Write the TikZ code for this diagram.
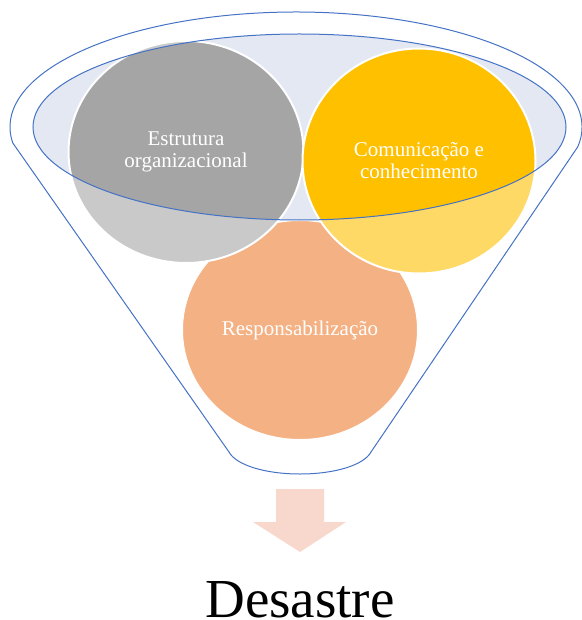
\documentclass[tikz,border=0pt]{standalone}
\usepackage{fontspec}
\setmainfont{Liberation Serif}
\usetikzlibrary{shapes.geometric,positioning}

\definecolor{funnelblue}{HTML}{4472C4}
\definecolor{lidblue}{HTML}{E3E8F3}
\definecolor{grayDk}{HTML}{A5A5A5}
\definecolor{grayLt}{HTML}{C9C9C9}
\definecolor{yellowDk}{HTML}{FFC000}
\definecolor{yellowLt}{HTML}{FFD966}
\definecolor{orangeLt}{HTML}{F4B183}
\definecolor{arrowPink}{HTML}{F8D8CC}

\begin{document}
\begin{tikzpicture}[x=1pt,y=-1pt,
  ring/.style={ellipse,draw=white,line width=2pt,inner sep=0pt,text=white,align=center,
    font=\fontsize{21}{22}\selectfont},
  funnel/.style={draw=funnelblue,line width=1pt}]
  \useasboundingbox (0,0) rectangle (581,620);

  % the three balls, lower one first
  \node[ring,fill=orangeLt,minimum width=236pt,minimum height=220pt] (resp) at (300,330) {Responsabilização};
  \node[ring,fill=grayLt,minimum width=235pt,minimum height=222pt] (estr) at (186,152) {};
  \node[ring,fill=yellowLt,minimum width=233pt,minimum height=225pt] (comu) at (419,161) {};

  % lid of the funnel
  \coordinate (lid) at (299.5,127);
  \fill[lidblue] (lid) ellipse[x radius=266.5,y radius=93];
  \begin{scope}
    \clip (lid) ellipse[x radius=266.5,y radius=93];
    \node[ring,fill=grayDk,minimum width=235pt,minimum height=222pt] (estrIn) at (estr) {Estrutura\\organizacional};
    \node[ring,fill=yellowDk,minimum width=233pt,minimum height=225pt] (comuIn) at (comu) {Comunicação e\\conhecimento};
  \end{scope}
  \draw[funnel] (lid) ellipse[x radius=266.5,y radius=93];

  % outer funnel
  \coordinate (rimL) at (12.8,143);
  \coordinate (neckL) at (229,452);
  \coordinate (neckR) at (371,452);
  \coordinate (neckB) at (300,474);
  \draw[funnel] (neckL) -- (rimL) arc[start angle=172,end angle=370,x radius=286,y radius=115]
    -- (neckR) .. controls (364,465) and (335,474) .. (neckB)
    .. controls (265,474) and (236,465) .. (neckL) -- cycle;

  % arrow down to the result
  \fill[arrowPink] (276,489) -- (324,489) -- (324,522) -- (346,522) -- (300,552)
    -- (253,522) -- (276,522) -- cycle;
  \node[anchor=base,inner sep=0pt,font=\fontsize{55}{60}\selectfont] (desastre) at (300,617) {Desastre};
\end{tikzpicture}
\end{document}
